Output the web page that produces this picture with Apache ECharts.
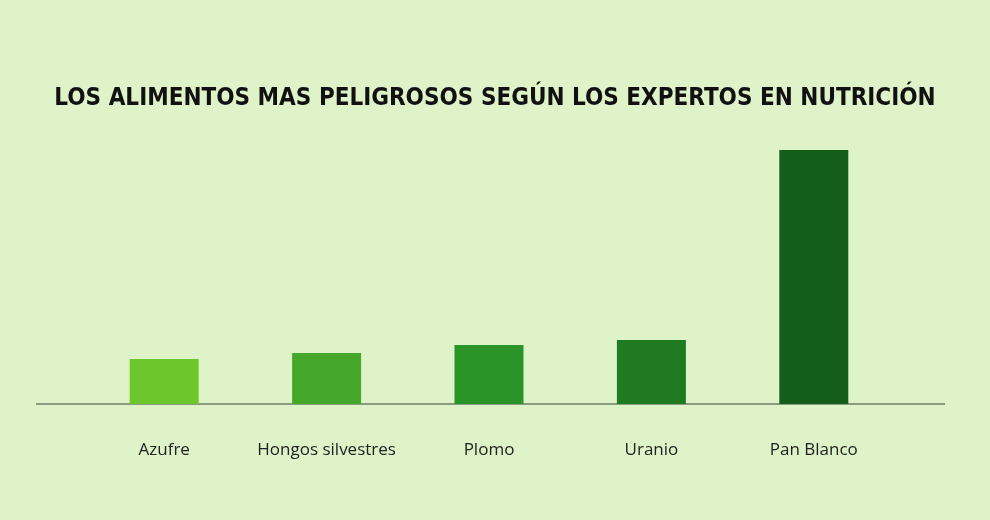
<!DOCTYPE html>
<html><head><meta charset="utf-8">
<script src="https://cdn.jsdelivr.net/npm/echarts@6/dist/echarts.min.js"></script>
<style>html,body{margin:0;padding:0;background:#dff3c8;}#c{width:990px;height:520px;}</style>
</head><body><div id="c"></div>
<script>
const categories = ['Azufre','Hongos silvestres','Plomo','Uranio','Pan Blanco'];
const values = [45, 51, 59, 64, 254];
const colors = ['#6cc72c','#45a82a','#2a9428','#1f7a22','#125e1a'];
const chart = echarts.init(document.getElementById('c'));
chart.setOption({
  backgroundColor: '#dff3c8',
  title: { text: 'LOS ALIMENTOS MAS PELIGROSOS SEGÚN LOS EXPERTOS EN NUTRICIÓN', left: 'center', top: 82,
    textStyle: { fontFamily: 'DejaVu Sans Condensed', fontWeight: 'bold', fontSize: 24, color: '#111' } },
  grid: { left: 83, right: 95, top: 150, bottom: 116 },
  xAxis: { type: 'category', data: categories, axisLine: { show: false }, axisTick: { show: false },
    axisLabel: { interval: 0, margin: 38, fontSize: 17, color: '#222', fontFamily: 'Open Sans' } },
  yAxis: { type: 'value', min: 0, max: 254, show: false, splitLine: { show: false } },
  series: [{ type: 'bar', barWidth: 69,
    data: values.map((v, i) => ({ value: v, itemStyle: { color: colors[i] } })) }],
  graphic: [{ type: 'line', shape: { x1: 36, y1: 404, x2: 945, y2: 404 }, style: { stroke: '#8a9a80', lineWidth: 2 } }]
});
</script></body></html>
